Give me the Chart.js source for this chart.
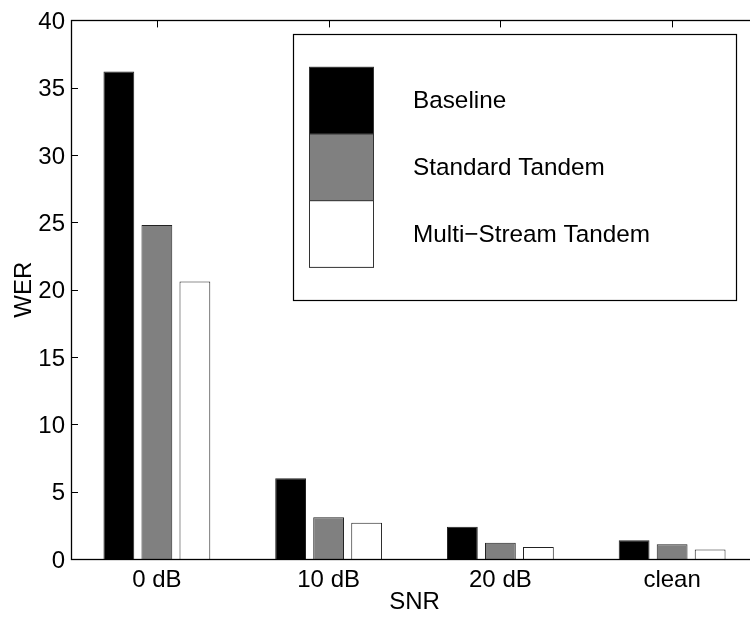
<!DOCTYPE html>
<html>
<head>
<meta charset="utf-8">
<script src="https://cdn.jsdelivr.net/npm/chart.js@4/dist/chart.umd.min.js"></script>
<style>
  html, body { margin: 0; padding: 0; background: #fff; overflow: hidden; width: 750px; height: 617px; }
  #wrap { width: 770px; height: 617px; }
</style>
</head>
<body>
<div id="wrap"><canvas id="c" width="770" height="617"></canvas></div>
<script>
const categories = ['0 dB', '10 dB', '20 dB', 'clean'];
const seriesNames = ['Baseline', 'Standard Tandem', 'Multi\u2212Stream Tandem'];
const baseline = [36.2, 6.0, 2.4, 1.4];
const standardTandem = [24.8, 3.1, 1.2, 1.1];
const multiStreamTandem = [20.6, 2.7, 0.9, 0.7];
const yTicks = [0, 5, 10, 15, 20, 25, 30, 35, 40];

const FONT = "'Liberation Sans', Arial, Helvetica, sans-serif";
const fills = ['#000000', '#808080', '#ffffff'];

const matlabAxes = {
  id: 'matlabAxes',
  beforeDatasetsDraw(chart) {
    const { ctx, chartArea: a, scales } = chart;
    ctx.save();
    ctx.strokeStyle = '#000';
    ctx.lineWidth = 1;
    ctx.beginPath();
    const L = 7;
    yTicks.forEach(v => {
      const y = Math.round(scales.y.getPixelForValue(v)) + 0.5;
      ctx.moveTo(a.left, y); ctx.lineTo(a.left + L, y);
      ctx.moveTo(a.right, y); ctx.lineTo(a.right - L, y);
    });
    categories.forEach((c, i) => {
      const x = Math.round(scales.x.getPixelForValue(i)) + 0.5;
      ctx.moveTo(x, a.top); ctx.lineTo(x, a.top + L);
      ctx.moveTo(x, a.bottom); ctx.lineTo(x, a.bottom - L);
    });
    ctx.stroke();
    ctx.restore();
  },
  afterDraw(chart) {
    const { ctx, chartArea: a } = chart;
    ctx.save();
    ctx.strokeStyle = '#000';
    ctx.lineWidth = 1.3;
    ctx.strokeRect(Math.round(a.left) + 0.5, Math.round(a.top) + 0.5,
                   Math.round(a.right - a.left), Math.round(a.bottom - a.top));
    // legend box
    const bx = 293.5, by = 34.5, bw = 443, bh = 266;
    ctx.fillStyle = '#fff';
    ctx.fillRect(bx, by, bw, bh);
    ctx.lineWidth = 1.2;
    ctx.strokeRect(bx, by, bw, bh);
    const sx = 309.5, sw = 64, sh = 66.7, sy0 = 67.3;
    ctx.font = '24.3px ' + FONT;
    ctx.textBaseline = 'middle';
    ctx.textAlign = 'left';
    chart.data.datasets.forEach((ds, i) => {
      const sy = sy0 + i * sh;
      ctx.fillStyle = ds.backgroundColor;
      ctx.fillRect(sx, sy, sw, sh);
      ctx.strokeStyle = '#333';
      ctx.lineWidth = 1;
      ctx.strokeRect(sx, sy, sw, sh);
      ctx.fillStyle = '#000';
      ctx.fillText(ds.label, 413, sy + sh / 2 + 1);
    });
    ctx.restore();
  }
};

new Chart(document.getElementById('c'), {
  type: 'bar',
  data: {
    labels: categories,
    datasets: [baseline, standardTandem, multiStreamTandem].map((d, i) => ({
      label: seriesNames[i],
      data: d,
      backgroundColor: fills[i],
      borderColor: '#222',
      borderWidth: 1,
      categoryPercentage: 0.664,
      barPercentage: 0.81
    }))
  },
  options: {
    responsive: false,
    animation: false,
    devicePixelRatio: 1,
    layout: { padding: { left: 0, top: 17, right: 12, bottom: 0 } },
    plugins: { legend: { display: false }, tooltip: { enabled: false } },
    scales: {
      x: {
        grid: { display: false, drawTicks: false },
        border: { display: false },
        ticks: { color: '#000', font: { family: FONT, size: 24 }, padding: 7, maxRotation: 0 },
        title: { display: true, text: 'SNR', color: '#000', font: { family: FONT, size: 24 }, padding: { top: 0, bottom: 0 } },
        afterFit(s) { s.height = 58; }
      },
      y: {
        min: 0, max: 40,
        afterBuildTicks(s) { s.ticks = yTicks.map(v => ({ value: v })); },
        grid: { display: false, drawTicks: false },
        border: { display: false },
        ticks: { color: '#000', font: { family: FONT, size: 24 }, padding: 6, labelOffset: 2 },
        title: { display: true, text: 'WER', color: '#000', font: { family: FONT, size: 24 }, padding: { top: 10, bottom: 0 } },
        afterFit(s) { s.width = 71; }
      }
    }
  },
  plugins: [matlabAxes]
});
</script>
</body>
</html>
